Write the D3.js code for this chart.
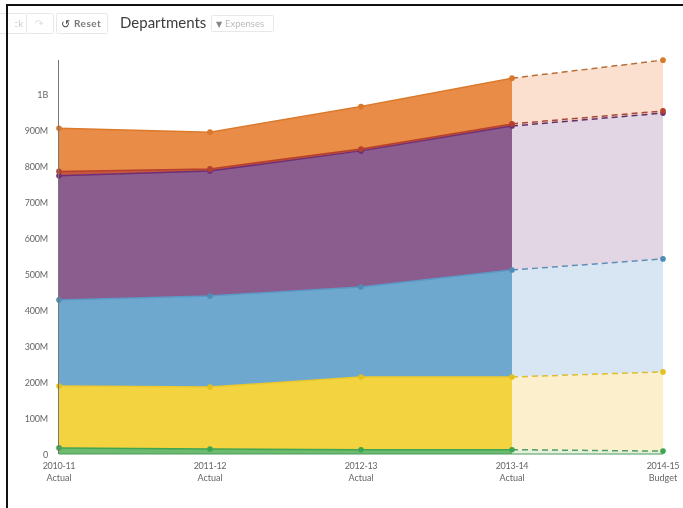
<!DOCTYPE html>
<html>
<head>
<meta charset="utf-8">
<script src="https://cdn.jsdelivr.net/npm/d3@7"></script>
<style>
  html, body { margin: 0; padding: 0; background: #fff; overflow: hidden; }
  svg { display: block; filter: blur(0.4px); }
  text { font-family: Lato, "Open Sans", sans-serif; }
</style>
</head>
<body>
<svg id="chart"></svg>
<script>
const width = 683;
const height = 508;

// data, in dollars
const years = ['2010-11', '2011-12', '2012-13', '2013-14', '2014-15'];
const kinds = ['Actual', 'Actual', 'Actual', 'Actual', 'Budget'];
const keys = ['green', 'yellow', 'blue', 'purple', 'red', 'orange'];
const green = [17e6, 14e6, 12e6, 12e6, 8e6];
const yellow = [172e6, 172e6, 202e6, 202e6, 220e6];
const blue = [239e6, 253e6, 250e6, 297e6, 314e6];
const purple = [345e6, 347e6, 378e6, 400e6, 405e6];
const red = [12e6, 6e6, 5e6, 6e6, 6e6];
const orange = [120e6, 102e6, 118e6, 127e6, 141e6];
const tickValues = [0, 100e6, 200e6, 300e6, 400e6, 500e6, 600e6, 700e6, 800e6, 900e6, 1e9];
const tickLabels = ['0', '100M', '200M', '300M', '400M', '500M', '600M', '700M', '800M', '900M', '1B'];

const solidColor = { green: '#6dbb6f', yellow: '#f3d33f', blue: '#6fa8cf', purple: '#8b5d8f', red: '#c8553f', orange: '#e98c48' };
const lineColor = { green: '#3fa552', yellow: '#edc92c', blue: '#5a9ac6', purple: '#6d2f75', red: '#b5402c', orange: '#dc7a2c' };
const dashColor = { green: '#4f9f62', yellow: '#dfbd2e', blue: '#5f8fb5', purple: '#5f3068', red: '#a8483a', orange: '#b8703a' };
const dotColor = { green: '#3fa552', yellow: '#e3bf1f', blue: '#4f8db8', purple: '#6d2f75', red: '#b5402c', orange: '#d9772a' };
const lightColor = { green: '#e4f0dc', yellow: '#fbf0cb', blue: '#d8e6f3', purple: '#e2d6e5', red: '#f3d5cc', orange: '#fbe0cf' };

const rows = years.map((y, i) => ({ i, green: green[i], yellow: yellow[i], blue: blue[i], purple: purple[i], red: red[i], orange: orange[i] }));
const layers = d3.stack().keys(keys)(rows);

const svg = d3.select('#chart')
    .attr('width', width)
    .attr('height', height);

const x = d3.scalePoint().domain(years).range([59, 663]);
const y = d3.scaleLinear().domain([0, 1e9]).range([454, 94]);

const area = d3.area()
    .x(d => x(years[d.data.i]))
    .y0(d => y(d[0]))
    .y1(d => y(d[1]));
const line = d3.line()
    .x(d => x(years[d.data.i]))
    .y(d => y(d[1]));

// areas first, split at the last actual year
svg.append('g').selectAll('path')
    .data(layers).enter()
    .append('path')
    .attr('fill', d => solidColor[d.key])
    .attr('d', d => area(d.slice(0, 4)));

svg.append('g').selectAll('path')
    .data(layers).enter()
    .append('path')
    .attr('fill', d => lightColor[d.key])
    .attr('d', d => area(d.slice(3)));

// green base line
svg.append('line')
    .attr('x1', x(years[0])).attr('x2', x(years[4]))
    .attr('y1', y(0)).attr('y2', y(0))
    .attr('stroke', '#4d9a5b')
    .attr('stroke-width', 1);

// lines
svg.append('g').selectAll('path')
    .data(layers).enter()
    .append('path')
    .attr('fill', 'none')
    .attr('stroke', d => lineColor[d.key])
    .attr('stroke-width', 1.5)
    .attr('d', d => line(d.slice(0, 4)));

svg.append('g').selectAll('path')
    .data(layers).enter()
    .append('path')
    .attr('fill', 'none')
    .attr('stroke', d => dashColor[d.key])
    .attr('stroke-width', 1.5)
    .attr('stroke-dasharray', '6,4')
    .attr('d', d => line(d.slice(3)));

// dots
layers.forEach(layer => {
    svg.append('g').selectAll('circle')
        .data(layer).enter()
        .append('circle')
        .attr('cx', d => x(years[d.data.i]))
        .attr('cy', d => y(d[1]))
        .attr('r', 2.8)
        .attr('fill', dotColor[layer.key]);
});

// yAxis
svg.append('line')
    .attr('x1', 58.5).attr('x2', 58.5)
    .attr('y1', 60).attr('y2', 454)
    .attr('stroke', '#777')
    .attr('stroke-width', 1);

svg.append('g').selectAll('text')
    .data(tickValues).enter()
    .append('text')
    .attr('x', 48)
    .attr('y', d => y(d) + 4)
    .attr('text-anchor', 'end')
    .attr('font-size', 9)
    .attr('letter-spacing', -0.2)
    .attr('fill', '#666')
    .text((d, i) => tickLabels[i]);

// xAxis
const xLabels = svg.append('g').selectAll('g')
    .data(years).enter()
    .append('g');

xLabels.append('text')
    .attr('x', d => x(d))
    .attr('y', 469)
    .attr('text-anchor', 'middle')
    .attr('font-size', 9)
    .attr('letter-spacing', -0.3)
    .attr('fill', '#666')
    .text(d => d);

xLabels.append('text')
    .attr('x', d => x(d))
    .attr('y', 481)
    .attr('text-anchor', 'middle')
    .attr('font-size', 9)
    .attr('fill', '#666')
    .text((d, i) => kinds[i]);

// toolbar
const buttons = [[-12, 38], [26, 27], [56, 51], [211, 62]];
svg.append('g').selectAll('rect')
    .data(buttons).enter()
    .append('rect')
    .attr('x', d => d[0] + 0.5)
    .attr('y', (d, i) => i === 3 ? 15.5 : 13.5)
    .attr('width', d => d[1])
    .attr('height', (d, i) => i === 3 ? 16 : 20)
    .attr('rx', 1)
    .attr('fill', '#fff')
    .attr('stroke', '#e8e8e8');

// back button is cut off by the edge of the screenshot, only "ck" shows
svg.append('clipPath').attr('id', 'backClip')
    .append('rect').attr('x', 15).attr('y', 10).attr('width', 11).attr('height', 25);
svg.append('text')
    .attr('x', 2).attr('y', 27)
    .attr('font-size', 10)
    .attr('fill', '#ccc')
    .attr('clip-path', 'url(#backClip)')
    .text('Back');

svg.append('text').attr('x', 35).attr('y', 27).attr('font-size', 10).attr('fill', '#ddd').style('font-family', 'DejaVu Sans').text('↷');
svg.append('text').attr('x', 61).attr('y', 28).attr('font-size', 11).attr('fill', '#444').style('font-family', 'DejaVu Sans').text('↺');
svg.append('text').attr('x', 74).attr('y', 27).attr('font-size', 10).attr('letter-spacing', 0.5).attr('fill', '#777').attr('font-weight', 700).text('Reset');

svg.append('text')
    .attr('x', 120)
    .attr('y', 28)
    .attr('font-size', 15)
    .attr('fill', '#3d3d3d')
    .text('Departments');

svg.append('text').attr('x', 216).attr('y', 27).attr('font-size', 8).attr('fill', '#888').style('font-family', 'DejaVu Sans').text('▼');
svg.append('text').attr('x', 225).attr('y', 27).attr('font-size', 9.5).attr('fill', '#bbb').text('Expenses');

// black frame around the screenshot
svg.append('path')
    .attr('d', `M7,${height}V5H${width}`)
    .attr('fill', 'none')
    .attr('stroke', '#111')
    .attr('stroke-width', 2);
</script>
</body>
</html>
